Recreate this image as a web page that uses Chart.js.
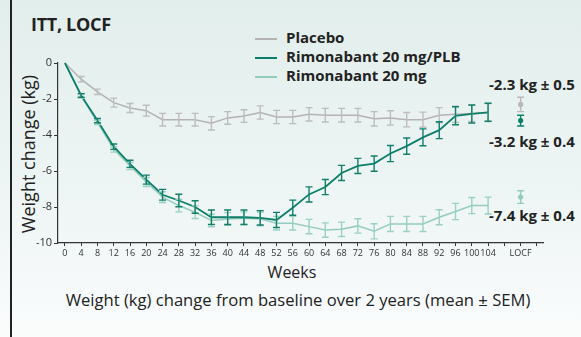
<!DOCTYPE html>
<html>
<head>
<meta charset="utf-8">
<script src="https://cdn.jsdelivr.net/npm/chart.js@4"></script>
<style>
  html, body { margin: 0; padding: 0; }
  body {
    width: 581px; height: 337px; overflow: hidden; position: relative;
    background: linear-gradient(180deg, #e2eeec 0%, #edf5f4 55%, #f7fafa 90%, #fbfdfd 100%);
    font-family: "Open Sans", sans-serif; color: #222;
  }
  .frame { position: absolute; left: 10px; top: 0; width: 1.5px; height: 337px; background: #222; }
  .title { position: absolute; left: 31px; top: 12px; font-size: 18px; font-weight: bold; letter-spacing: -0.3px; }
  .legend { position: absolute; left: 255px; top: 28px; font-size: 15px; font-weight: bold; }
  .legend div { height: 19px; line-height: 19px; white-space: nowrap; }
  .legend span { display: inline-block; width: 22px; height: 2px; vertical-align: middle; margin-right: 9px; }
  .note { position: absolute; left: 489px; font-size: 15px; font-weight: bold; white-space: nowrap; }
  .ytitle { position: absolute; left: 28px; top: 154px; font-size: 18px; transform: translate(-50%, -50%) rotate(-90deg); white-space: nowrap; }
  .weeks { position: absolute; left: 292px; top: 261px; font-size: 16px; transform: translateX(-50%); }
  .sub { position: absolute; left: 298px; top: 288px; font-size: 16.6px; transform: translateX(-50%); white-space: nowrap; }
  canvas { position: absolute; left: 0; top: 0; }
</style>
</head>
<body>
<div class="frame"></div>
<div class="title">ITT, LOCF</div>
<div class="legend">
  <div><span style="background:#b3b3b3"></span>Placebo</div>
  <div><span style="background:#0b7f68"></span>Rimonabant 20 mg/PLB</div>
  <div><span style="background:#93ccbd"></span>Rimonabant 20 mg</div>
</div>
<div class="note" style="top:74px">-2.3 kg ± 0.5</div>
<div class="note" style="top:131px">-3.2 kg ± 0.4</div>
<div class="note" style="top:205px">-7.4 kg ± 0.4</div>
<div class="ytitle">Weight change (kg)</div>
<div class="weeks">Weeks</div>
<div class="sub">Weight (kg) change from baseline over 2 years (mean ± SEM)</div>
<canvas id="chart" width="581" height="337"></canvas>
<script>
const weeks = [0, 4, 8, 12, 16, 20, 24, 28, 32, 36, 40, 44, 48, 52, 56, 60, 64, 68, 72, 76, 80, 84, 88, 92, 96, 100, 104];
const locfWeek = 112;

const placebo = [0, -0.9, -1.6, -2.2, -2.5, -2.65, -3.15, -3.15, -3.15, -3.35, -3.05, -2.95, -2.75, -3.0, -3.0, -2.85, -2.9, -2.9, -2.9, -3.1, -3.05, -3.15, -3.15, -2.9, -2.85, -2.8, -2.75];
const placeboErr = [0, 0.15, 0.15, 0.25, 0.25, 0.3, 0.35, 0.35, 0.35, 0.37, 0.35, 0.35, 0.37, 0.37, 0.37, 0.37, 0.38, 0.38, 0.38, 0.4, 0.4, 0.4, 0.42, 0.42, 0.45, 0.45, 0.5];

const rimoPlb = [0, -1.8, -3.2, -4.65, -5.6, -6.48, -7.32, -7.64, -8.0, -8.57, -8.57, -8.57, -8.6, -8.72, -8.04, -7.3, -6.89, -6.11, -5.72, -5.59, -5.03, -4.62, -4.13, -3.73, -2.93, -2.83, -2.74];
const rimoPlbErr = [0, 0.1, 0.12, 0.15, 0.2, 0.25, 0.3, 0.35, 0.35, 0.4, 0.4, 0.4, 0.4, 0.42, 0.42, 0.42, 0.42, 0.42, 0.42, 0.42, 0.45, 0.45, 0.47, 0.47, 0.5, 0.5, 0.5];

const rimo = [0, -1.85, -3.3, -4.8, -5.72, -6.61, -7.45, -7.92, -8.29, -8.75, -8.66, -8.62, -8.66, -8.9, -8.9, -9.09, -9.28, -9.24, -9.05, -9.35, -8.94, -8.94, -8.94, -8.57, -8.25, -7.92, -7.92];
const rimoErr = [0, 0.1, 0.12, 0.15, 0.2, 0.25, 0.3, 0.35, 0.35, 0.35, 0.35, 0.35, 0.38, 0.38, 0.38, 0.4, 0.4, 0.4, 0.4, 0.42, 0.42, 0.42, 0.42, 0.42, 0.45, 0.45, 0.47];

const locfValues = [-2.3, -3.2, -7.45];
const locfErr = [0.4, 0.3, 0.35];

const yTicks = [0, -2, -4, -6, -8, -10];

const grey = '#b3b3b3', dark = '#0b7f68', light = '#93ccbd';

const pts = (xs, ys) => xs.map((x, i) => ({ x, y: ys[i] }));

// vertical error bars with caps, drawn through the chart scales
const errorBars = {
  id: 'errorBars',
  afterDatasetsDraw(chart) {
    const { ctx, scales: { x, y } } = chart;
    [2, 1, 0, 3, 5, 4].forEach(di => {
      const ds = chart.data.datasets[di];
      if (!ds.err) return;
      ctx.save();
      ctx.strokeStyle = ds.barColor || ds.borderColor;
      ctx.lineWidth = 1.4;
      ds.data.forEach((p, i) => {
        const e = ds.err[i];
        if (!e) return;
        const px = x.getPixelForValue(p.x);
        const top = y.getPixelForValue(p.y + e), bot = y.getPixelForValue(p.y - e);
        ctx.beginPath();
        ctx.moveTo(px, top); ctx.lineTo(px, bot);
        ctx.moveTo(px - 3.5, top); ctx.lineTo(px + 3.5, top);
        ctx.moveTo(px - 3.5, bot); ctx.lineTo(px + 3.5, bot);
        ctx.stroke();
      });
      ctx.restore();
    });
  }
};

const line = (data, err, color, barColor, order, width) => ({
  data: pts(weeks, data), err, borderColor: color, barColor, backgroundColor: color,
  borderWidth: width, pointRadius: 0, tension: 0, order, showLine: true, clip: false
});
const dot = (value, err, color, order) => ({
  data: [{ x: locfWeek, y: value }], err: [err], borderColor: color, backgroundColor: color,
  pointRadius: 2.6, pointBorderWidth: 0, showLine: false, order, clip: false
});

new Chart(document.getElementById('chart'), {
  type: 'scatter',
  data: {
    datasets: [
      line(rimoPlb, rimoPlbErr, dark, '#137f6b', 0, 1.8),
      line(rimo, rimoErr, light, '#9bd0c2', 1, 1.5),
      line(placebo, placeboErr, grey, '#bdbdbd', 2, 1.5),
      dot(locfValues[0], locfErr[0], '#b8b8b8', 3),
      dot(locfValues[1], locfErr[1], dark, 3),
      dot(locfValues[2], locfErr[2], light, 3)
    ]
  },
  options: {
    responsive: false, animation: false, events: [],
    layout: { padding: { left: 0, top: 63, right: 38, bottom: 0 } },
    plugins: { legend: { display: false }, tooltip: { enabled: false } },
    scales: {
      x: {
        type: 'linear', min: -1.7, max: 117.5,
        afterFit: s => { s.height = 94; },
        afterBuildTicks: s => { s.ticks = Array.from({ length: 30 }, (_, i) => ({ value: i * 4 })); },
        ticks: {
          autoSkip: false, maxRotation: 0, padding: 2, color: '#333',
          font: { family: 'Open Sans', size: 9 },
          callback: v => v <= 104 ? String(v) : (v === locfWeek ? 'LOCF' : '')
        },
        grid: { drawOnChartArea: false, drawTicks: true, tickLength: 3, color: '#333' },
        border: { color: '#333', width: 1.2 }
      },
      y: {
        min: -10, max: 0,
        afterFit: s => { s.width = 58; },
        afterBuildTicks: s => { s.ticks = yTicks.map(v => ({ value: v })); },
        ticks: { padding: 2, color: '#333', font: { family: 'Open Sans', size: 11 } },
        grid: { drawOnChartArea: false, drawTicks: true, tickLength: 4, color: '#333' },
        border: { color: '#333', width: 1.2 }
      }
    }
  },
  plugins: [errorBars]
});
</script>
</body>
</html>
